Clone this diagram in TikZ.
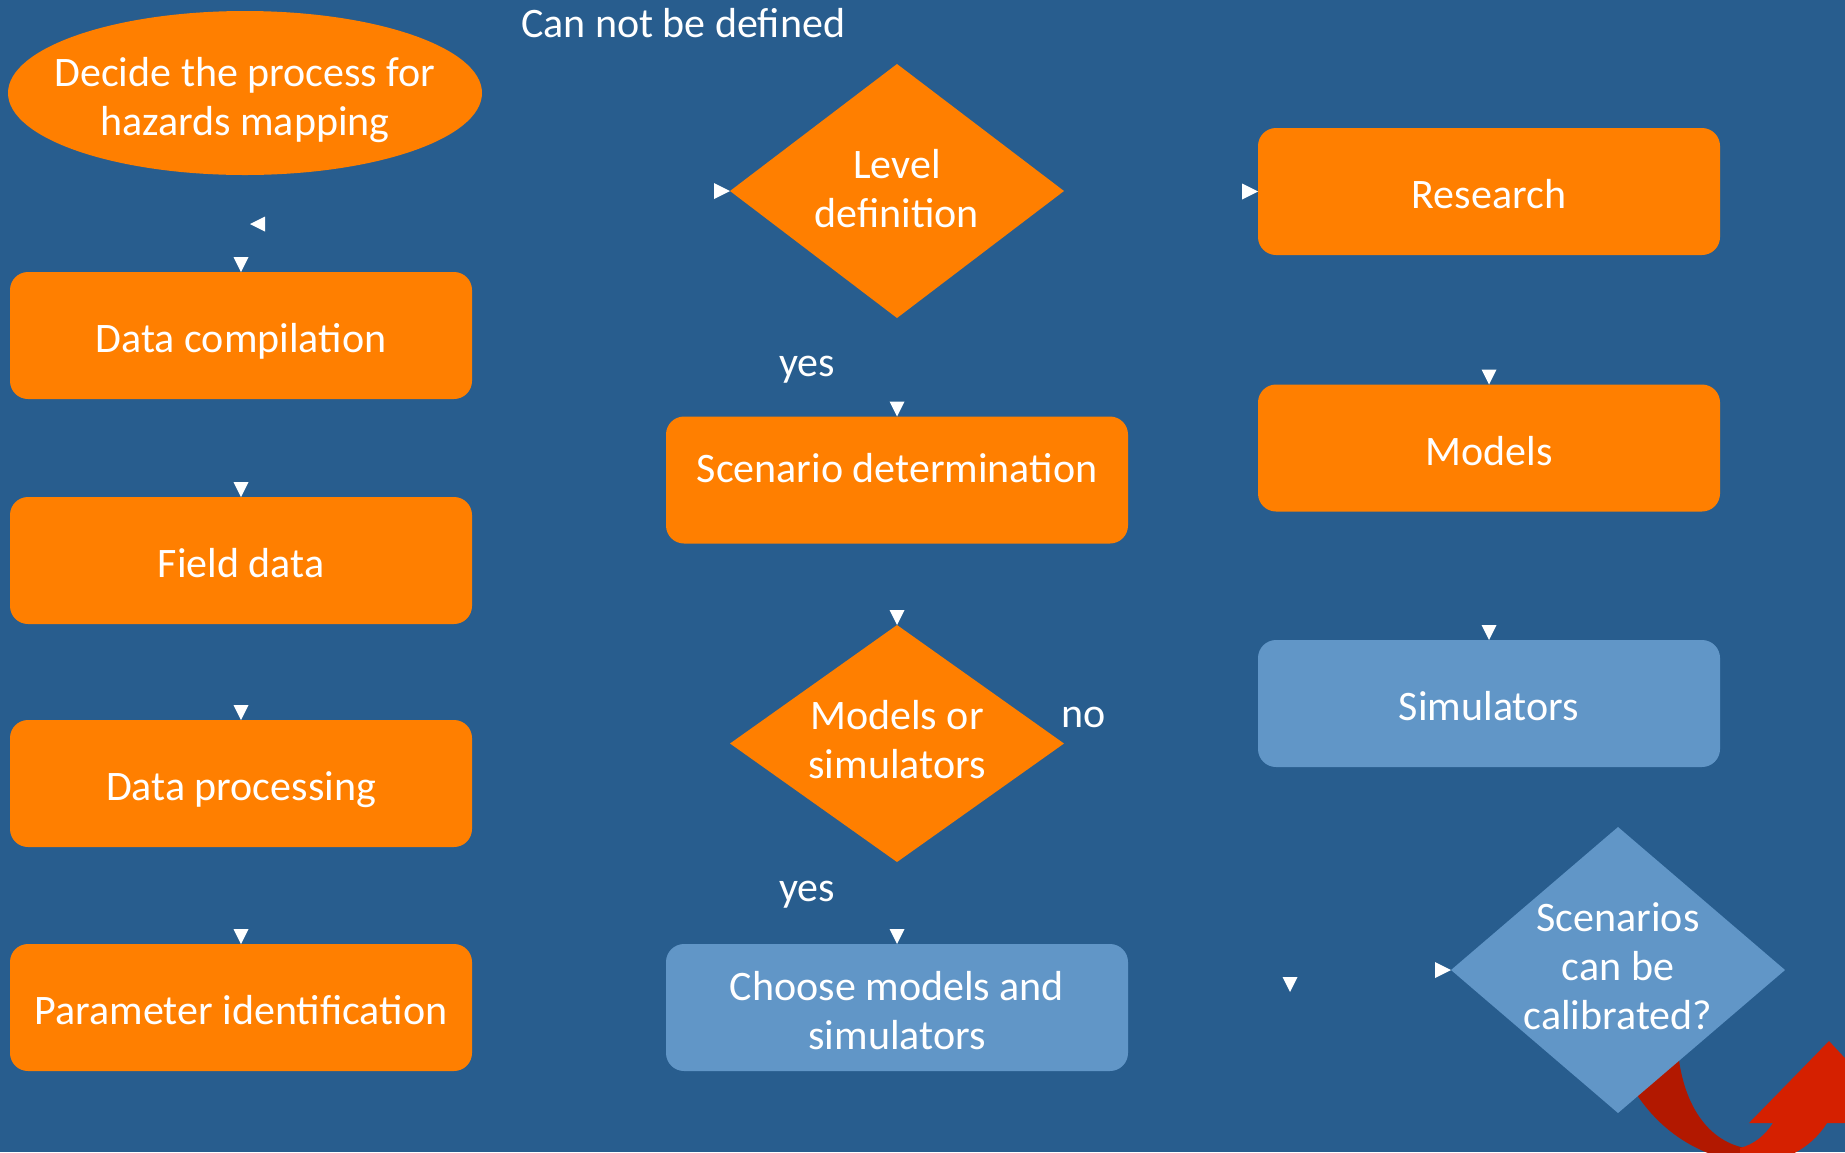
\documentclass[tikz,border=0pt]{standalone}
\usepackage{fontspec}
\setmainfont{Carlito}
\usetikzlibrary{shapes.geometric}
\definecolor{bg}{RGB}{40,93,142}
\definecolor{org}{RGB}{255,127,0}
\definecolor{lblue}{RGB}{97,150,199}
\definecolor{rdark}{RGB}{178,24,0}
\definecolor{rbright}{RGB}{213,32,0}
\newcommand\lblfont{\fontsize{21}{24.5}\selectfont}
% small white arrowheads: tip at the given point
\newcommand\tipS[1]{\fill[white] (#1) -- ++(-7.5,-15) -- ++(15,0) -- cycle;}
\newcommand\tipE[1]{\fill[white] (#1) -- ++(-16,-8) -- ++(0,16) -- cycle;}
\newcommand\tipW[1]{\fill[white] (#1) -- ++(15,-7.5) -- ++(0,15) -- cycle;}
\begin{document}
\begin{tikzpicture}[x=0.5pt,y=-0.5pt,
  base/.style={inner sep=0pt, outer sep=0pt, text=white, align=center, font=\lblfont},
  box/.style={base, rectangle, rounded corners=9pt, minimum width=231pt, minimum height=63.5pt},
  one/.style={text height=17pt, text depth=0pt},
  obox/.style={box, fill=org},
  bbox/.style={box, fill=lblue},
  dia/.style={base, diamond, minimum width=167pt},
  txt/.style={base}]
\useasboundingbox (0,0) rectangle (1845,1152);
\fill[bg] (0,0) rectangle (1845,1152);

% start
\node[base, ellipse, fill=org, minimum width=237pt, minimum height=82pt] (start) at (245,93) {};
\node[txt, yshift=-3.5pt] (startt) at (start) {Decide the process for\\hazards mapping};
\node[txt, anchor=west, yshift=-1.2pt] (undef) at (521,21) {Can not be defined};

% left column
\node[obox, one] (dc) at (241,335.5) {Data compilation};
\node[obox, one] (fd) at (241,560.5) {Field data};
\node[obox, one] (dp) at (241,783.5) {Data processing};
\node[obox, one] (pi) at (241,1007.5) {Parameter identification};

% middle column
\node[dia, fill=org, minimum height=127pt] (lvl) at (897,191) {};
\node[txt, yshift=1.2pt] (lvlt) at (lvl) {Level\\definition};
\node[obox, text height=2pt, text depth=0pt] (sd) at (897,480) {Scenario determination};
\node[dia, fill=org, minimum height=118.5pt] (mos) at (897,743.5) {};
\node[txt, yshift=1.8pt] (most) at (mos) {Models or\\simulators};
\node[bbox] (cm) at (897,1007.5) {};
\node[txt, yshift=-1.5pt] (cmt) at (cm) {Choose models and\\simulators};

% right column
\node[obox, one] (rs) at (1489,191.5) {Research};
\node[obox, one] (md) at (1489,448) {Models};
\node[bbox, one] (sm) at (1489,703.5) {Simulators};

% curved red return arrow
\begin{scope}
\clip (0,0) rectangle (1845,1152);
\fill[rdark] (1628,1080) -- (1677,1040)
  .. controls (1680,1100) and (1705,1140) .. (1745,1148)
  -- (1760,1165) .. controls (1700,1160) and (1655,1130) .. (1628,1080) -- cycle;
\fill[rbright] (1740,1148) .. controls (1755,1144) and (1765,1135) .. (1773,1123)
  -- (1749,1123) -- (1829,1041) -- (1905,1123) -- (1827,1123)
  .. controls (1810,1150) and (1780,1165) .. (1740,1165) -- cycle;
\end{scope}

\node[dia, fill=lblue, minimum height=143pt] (scn) at (1618,970) {};
\node[txt, yshift=2pt] (scnt) at (scn) {Scenarios\\can be\\calibrated?};

% branch labels
\node[txt, yshift=-1.8pt] (yes1) at (807,366) {yes};
\node[txt] (no1) at (1084,717) {no};
\node[txt, yshift=-1.8pt] (yes2) at (807,891) {yes};

% free arrow ends
\coordinate (fw) at (250,224);
\coordinate (fs) at (1290,992);

% arrowheads
\tipS{dc.north}
\tipW{fw}
\tipS{fd.north}
\tipS{dp.north}
\tipS{pi.north}
\tipE{lvl.west}
\tipS{sd.north}
\tipS{mos.north}
\tipS{cm.north}
\tipE{rs.west}
\tipS{md.north}
\tipS{sm.north}
\tipS{fs}
\tipE{scn.west}
\end{tikzpicture}
\end{document}
